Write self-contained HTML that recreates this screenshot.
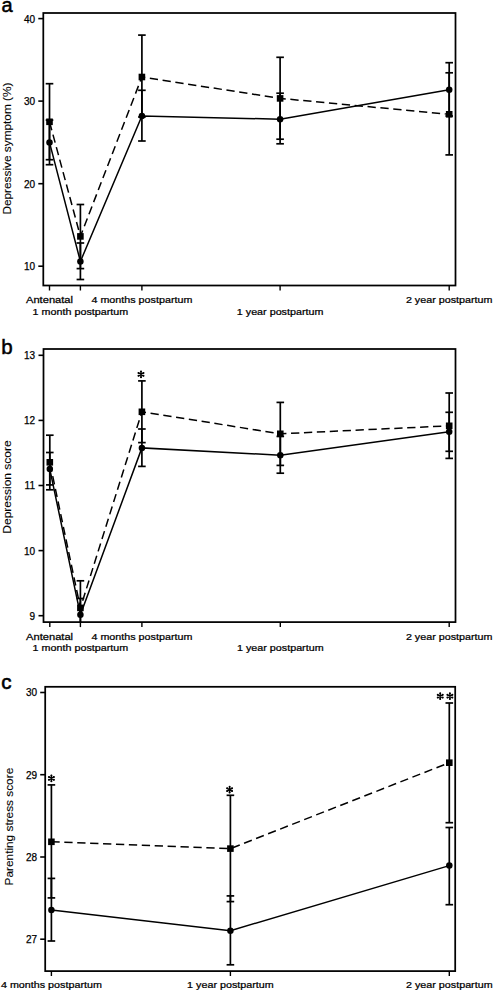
<!DOCTYPE html>
<html><head><meta charset="utf-8"><style>
html,body{margin:0;padding:0;background:#fff;width:493px;height:992px;overflow:hidden}
svg{display:block}
text{font-family:"Liberation Sans", sans-serif;fill:#000;stroke:#000;stroke-width:0.25px}
</style></head><body>
<svg width="493" height="992" viewBox="0 0 493 992">
<text x="1.6" y="12.3" font-size="20" style="stroke-width:0.5px">a</text>
<rect x="43.3" y="13.0" width="412.2" height="272.5" fill="none" stroke="#000" stroke-width="1.75"/>
<line x1="38.3" y1="18.6" x2="43.3" y2="18.6" stroke="#000" stroke-width="1.6"/>
<text transform="translate(35.0,22.5) scale(1.0,1)" font-size="10.0" text-anchor="end">40</text>
<line x1="38.3" y1="101.1" x2="43.3" y2="101.1" stroke="#000" stroke-width="1.6"/>
<text transform="translate(35.0,105.0) scale(1.0,1)" font-size="10.0" text-anchor="end">30</text>
<line x1="38.3" y1="183.7" x2="43.3" y2="183.7" stroke="#000" stroke-width="1.6"/>
<text transform="translate(35.0,187.6) scale(1.0,1)" font-size="10.0" text-anchor="end">20</text>
<line x1="38.3" y1="266.2" x2="43.3" y2="266.2" stroke="#000" stroke-width="1.6"/>
<text transform="translate(35.0,270.1) scale(1.0,1)" font-size="10.0" text-anchor="end">10</text>
<line x1="49.5" y1="285.5" x2="49.5" y2="290.5" stroke="#000" stroke-width="1.4"/>
<line x1="80.4" y1="285.5" x2="80.4" y2="290.5" stroke="#000" stroke-width="1.4"/>
<line x1="141.9" y1="285.5" x2="141.9" y2="290.5" stroke="#000" stroke-width="1.4"/>
<line x1="280.1" y1="285.5" x2="280.1" y2="290.5" stroke="#000" stroke-width="1.4"/>
<line x1="449.2" y1="285.5" x2="449.2" y2="290.5" stroke="#000" stroke-width="1.4"/>
<text transform="translate(49.5,303.2) scale(1.16,1)" font-size="9.6" text-anchor="middle">Antenatal</text>
<text transform="translate(141.9,303.2) scale(1.12,1)" font-size="9.6" text-anchor="middle">4 months postpartum</text>
<text transform="translate(449.2,303.2) scale(1.12,1)" font-size="9.6" text-anchor="middle">2 year postpartum</text>
<text transform="translate(80.4,314.8) scale(1.12,1)" font-size="9.6" text-anchor="middle">1 month postpartum</text>
<text transform="translate(280.1,314.8) scale(1.12,1)" font-size="9.6" text-anchor="middle">1 year postpartum</text>
<text transform="translate(11.0,148.6) rotate(-90) scale(1.15,1)" font-size="10.3" text-anchor="middle" style="stroke-width:0.1px">Depressive symptom (%)</text>
<line x1="49.5" y1="83.7" x2="49.5" y2="159.7" stroke="#000" stroke-width="1.7"/>
<line x1="45.7" y1="83.7" x2="53.3" y2="83.7" stroke="#000" stroke-width="1.7"/>
<line x1="45.7" y1="159.7" x2="53.3" y2="159.7" stroke="#000" stroke-width="1.7"/>
<line x1="49.5" y1="120.1" x2="49.5" y2="164.7" stroke="#000" stroke-width="1.7"/>
<line x1="45.7" y1="120.1" x2="53.3" y2="120.1" stroke="#000" stroke-width="1.7"/>
<line x1="45.7" y1="164.7" x2="53.3" y2="164.7" stroke="#000" stroke-width="1.7"/>
<line x1="80.4" y1="204.5" x2="80.4" y2="268.6" stroke="#000" stroke-width="1.7"/>
<line x1="76.60000000000001" y1="204.5" x2="84.2" y2="204.5" stroke="#000" stroke-width="1.7"/>
<line x1="76.60000000000001" y1="268.6" x2="84.2" y2="268.6" stroke="#000" stroke-width="1.7"/>
<line x1="80.4" y1="243.0" x2="80.4" y2="279.5" stroke="#000" stroke-width="1.7"/>
<line x1="76.60000000000001" y1="243.0" x2="84.2" y2="243.0" stroke="#000" stroke-width="1.7"/>
<line x1="76.60000000000001" y1="279.5" x2="84.2" y2="279.5" stroke="#000" stroke-width="1.7"/>
<line x1="141.9" y1="35.1" x2="141.9" y2="117.0" stroke="#000" stroke-width="1.7"/>
<line x1="138.1" y1="35.1" x2="145.70000000000002" y2="35.1" stroke="#000" stroke-width="1.7"/>
<line x1="138.1" y1="117.0" x2="145.70000000000002" y2="117.0" stroke="#000" stroke-width="1.7"/>
<line x1="141.9" y1="90.3" x2="141.9" y2="141.0" stroke="#000" stroke-width="1.7"/>
<line x1="138.1" y1="90.3" x2="145.70000000000002" y2="90.3" stroke="#000" stroke-width="1.7"/>
<line x1="138.1" y1="141.0" x2="145.70000000000002" y2="141.0" stroke="#000" stroke-width="1.7"/>
<line x1="280.1" y1="57.3" x2="280.1" y2="139.2" stroke="#000" stroke-width="1.7"/>
<line x1="276.3" y1="57.3" x2="283.90000000000003" y2="57.3" stroke="#000" stroke-width="1.7"/>
<line x1="276.3" y1="139.2" x2="283.90000000000003" y2="139.2" stroke="#000" stroke-width="1.7"/>
<line x1="280.1" y1="93.2" x2="280.1" y2="143.8" stroke="#000" stroke-width="1.7"/>
<line x1="276.3" y1="93.2" x2="283.90000000000003" y2="93.2" stroke="#000" stroke-width="1.7"/>
<line x1="276.3" y1="143.8" x2="283.90000000000003" y2="143.8" stroke="#000" stroke-width="1.7"/>
<line x1="449.2" y1="72.8" x2="449.2" y2="154.9" stroke="#000" stroke-width="1.7"/>
<line x1="445.4" y1="72.8" x2="453.0" y2="72.8" stroke="#000" stroke-width="1.7"/>
<line x1="445.4" y1="154.9" x2="453.0" y2="154.9" stroke="#000" stroke-width="1.7"/>
<line x1="449.2" y1="62.7" x2="449.2" y2="116.0" stroke="#000" stroke-width="1.7"/>
<line x1="445.4" y1="62.7" x2="453.0" y2="62.7" stroke="#000" stroke-width="1.7"/>
<line x1="445.4" y1="116.0" x2="453.0" y2="116.0" stroke="#000" stroke-width="1.7"/>
<polyline points="49.5,121.8 80.4,236.4 141.9,77.0 280.1,98.4 449.2,114.3" fill="none" stroke="#000" stroke-width="1.5" stroke-dasharray="8.3 4.62" stroke-dashoffset="-0.4"/>
<polyline points="49.5,142.4 80.4,261.5 141.9,116.0 280.1,119.2 449.2,89.8" fill="none" stroke="#000" stroke-width="1.5"/>
<rect x="46.2" y="118.5" width="6.6" height="6.6" fill="#000"/>
<rect x="77.10000000000001" y="233.1" width="6.6" height="6.6" fill="#000"/>
<rect x="138.6" y="73.7" width="6.6" height="6.6" fill="#000"/>
<rect x="276.8" y="95.10000000000001" width="6.6" height="6.6" fill="#000"/>
<rect x="445.9" y="111.0" width="6.6" height="6.6" fill="#000"/>
<circle cx="49.5" cy="142.4" r="3.25" fill="#000"/>
<circle cx="80.4" cy="261.5" r="3.25" fill="#000"/>
<circle cx="141.9" cy="116.0" r="3.25" fill="#000"/>
<circle cx="280.1" cy="119.2" r="3.25" fill="#000"/>
<circle cx="449.2" cy="89.8" r="3.25" fill="#000"/>
<text x="1.2" y="353.6" font-size="20.5" style="stroke-width:0.5px">b</text>
<rect x="43.5" y="349.0" width="412.0" height="273.1" fill="none" stroke="#000" stroke-width="1.75"/>
<line x1="38.5" y1="355.3" x2="43.5" y2="355.3" stroke="#000" stroke-width="1.6"/>
<text transform="translate(35.0,359.2) scale(1.0,1)" font-size="10.0" text-anchor="end">13</text>
<line x1="38.5" y1="420.4" x2="43.5" y2="420.4" stroke="#000" stroke-width="1.6"/>
<text transform="translate(35.0,424.3) scale(1.0,1)" font-size="10.0" text-anchor="end">12</text>
<line x1="38.5" y1="485.5" x2="43.5" y2="485.5" stroke="#000" stroke-width="1.6"/>
<text transform="translate(35.0,489.4) scale(1.0,1)" font-size="10.0" text-anchor="end">11</text>
<line x1="38.5" y1="550.6" x2="43.5" y2="550.6" stroke="#000" stroke-width="1.6"/>
<text transform="translate(35.0,554.5) scale(1.0,1)" font-size="10.0" text-anchor="end">10</text>
<line x1="38.5" y1="615.7" x2="43.5" y2="615.7" stroke="#000" stroke-width="1.6"/>
<text transform="translate(35.0,619.6) scale(1.0,1)" font-size="10.0" text-anchor="end">9</text>
<line x1="49.8" y1="622.1" x2="49.8" y2="627.1" stroke="#000" stroke-width="1.4"/>
<line x1="80.4" y1="622.1" x2="80.4" y2="627.1" stroke="#000" stroke-width="1.4"/>
<line x1="141.9" y1="622.1" x2="141.9" y2="627.1" stroke="#000" stroke-width="1.4"/>
<line x1="280.3" y1="622.1" x2="280.3" y2="627.1" stroke="#000" stroke-width="1.4"/>
<line x1="449.2" y1="622.1" x2="449.2" y2="627.1" stroke="#000" stroke-width="1.4"/>
<text transform="translate(49.6,639.5) scale(1.16,1)" font-size="9.6" text-anchor="middle">Antenatal</text>
<text transform="translate(141.9,639.5) scale(1.12,1)" font-size="9.6" text-anchor="middle">4 months postpartum</text>
<text transform="translate(449.2,639.5) scale(1.12,1)" font-size="9.6" text-anchor="middle">2 year postpartum</text>
<text transform="translate(80.4,651.1) scale(1.12,1)" font-size="9.6" text-anchor="middle">1 month postpartum</text>
<text transform="translate(280.3,651.1) scale(1.12,1)" font-size="9.6" text-anchor="middle">1 year postpartum</text>
<text transform="translate(10.6,487.0) rotate(-90) scale(1.165,1)" font-size="10.3" text-anchor="middle" style="stroke-width:0.1px">Depression score</text>
<line x1="49.8" y1="435.2" x2="49.8" y2="489.8" stroke="#000" stroke-width="1.7"/>
<line x1="46.0" y1="435.2" x2="53.599999999999994" y2="435.2" stroke="#000" stroke-width="1.7"/>
<line x1="46.0" y1="489.8" x2="53.599999999999994" y2="489.8" stroke="#000" stroke-width="1.7"/>
<line x1="49.8" y1="452.5" x2="49.8" y2="484.9" stroke="#000" stroke-width="1.7"/>
<line x1="46.0" y1="452.5" x2="53.599999999999994" y2="452.5" stroke="#000" stroke-width="1.7"/>
<line x1="46.0" y1="484.9" x2="53.599999999999994" y2="484.9" stroke="#000" stroke-width="1.7"/>
<line x1="80.4" y1="580.8" x2="80.4" y2="622.1" stroke="#000" stroke-width="1.7"/>
<line x1="76.60000000000001" y1="580.8" x2="84.2" y2="580.8" stroke="#000" stroke-width="1.7"/>
<line x1="80.4" y1="598.5" x2="80.4" y2="622.1" stroke="#000" stroke-width="1.7"/>
<line x1="76.60000000000001" y1="598.5" x2="84.2" y2="598.5" stroke="#000" stroke-width="1.7"/>
<line x1="141.9" y1="380.9" x2="141.9" y2="442.6" stroke="#000" stroke-width="1.7"/>
<line x1="138.1" y1="380.9" x2="145.70000000000002" y2="380.9" stroke="#000" stroke-width="1.7"/>
<line x1="138.1" y1="442.6" x2="145.70000000000002" y2="442.6" stroke="#000" stroke-width="1.7"/>
<line x1="141.9" y1="429.0" x2="141.9" y2="466.4" stroke="#000" stroke-width="1.7"/>
<line x1="138.1" y1="429.0" x2="145.70000000000002" y2="429.0" stroke="#000" stroke-width="1.7"/>
<line x1="138.1" y1="466.4" x2="145.70000000000002" y2="466.4" stroke="#000" stroke-width="1.7"/>
<line x1="280.3" y1="402.4" x2="280.3" y2="465.4" stroke="#000" stroke-width="1.7"/>
<line x1="276.5" y1="402.4" x2="284.1" y2="402.4" stroke="#000" stroke-width="1.7"/>
<line x1="276.5" y1="465.4" x2="284.1" y2="465.4" stroke="#000" stroke-width="1.7"/>
<line x1="280.3" y1="436.4" x2="280.3" y2="473.2" stroke="#000" stroke-width="1.7"/>
<line x1="276.5" y1="436.4" x2="284.1" y2="436.4" stroke="#000" stroke-width="1.7"/>
<line x1="276.5" y1="473.2" x2="284.1" y2="473.2" stroke="#000" stroke-width="1.7"/>
<line x1="449.2" y1="393.0" x2="449.2" y2="458.4" stroke="#000" stroke-width="1.7"/>
<line x1="445.4" y1="393.0" x2="453.0" y2="393.0" stroke="#000" stroke-width="1.7"/>
<line x1="445.4" y1="458.4" x2="453.0" y2="458.4" stroke="#000" stroke-width="1.7"/>
<line x1="449.2" y1="412.3" x2="449.2" y2="451.3" stroke="#000" stroke-width="1.7"/>
<line x1="445.4" y1="412.3" x2="453.0" y2="412.3" stroke="#000" stroke-width="1.7"/>
<line x1="445.4" y1="451.3" x2="453.0" y2="451.3" stroke="#000" stroke-width="1.7"/>
<polyline points="49.8,462.3 80.4,607.9 141.9,411.8 280.3,433.8 449.2,425.8" fill="none" stroke="#000" stroke-width="1.5" stroke-dasharray="8.3 4.62" stroke-dashoffset="-1.3"/>
<polyline points="49.8,469.1 80.4,614.8 141.9,447.9 280.3,455.2 449.2,431.7" fill="none" stroke="#000" stroke-width="1.5"/>
<rect x="46.5" y="459.0" width="6.6" height="6.6" fill="#000"/>
<rect x="77.10000000000001" y="604.6" width="6.6" height="6.6" fill="#000"/>
<rect x="138.6" y="408.5" width="6.6" height="6.6" fill="#000"/>
<rect x="277.0" y="430.5" width="6.6" height="6.6" fill="#000"/>
<rect x="445.9" y="422.5" width="6.6" height="6.6" fill="#000"/>
<circle cx="49.8" cy="469.1" r="3.25" fill="#000"/>
<circle cx="80.4" cy="614.8" r="3.25" fill="#000"/>
<circle cx="141.9" cy="447.9" r="3.25" fill="#000"/>
<circle cx="280.3" cy="455.2" r="3.25" fill="#000"/>
<circle cx="449.2" cy="431.7" r="3.25" fill="#000"/>
<path d="M141.00,371.55L141.00,377.25M138.53,372.97L143.47,375.82M143.47,372.97L138.53,375.82" stroke="#000" stroke-width="1.4" stroke-linecap="round" fill="none"/>
<g fill="#000"><circle cx="141.00" cy="371.55" r="1.0"/><circle cx="141.00" cy="377.25" r="1.0"/><circle cx="138.53" cy="372.97" r="1.0"/><circle cx="143.47" cy="375.82" r="1.0"/><circle cx="143.47" cy="372.97" r="1.0"/><circle cx="138.53" cy="375.82" r="1.0"/></g>
<text x="1.2" y="688.9" font-size="20.5" style="stroke-width:0.6px">c</text>
<rect x="45.2" y="686.8" width="410.0" height="284.30000000000007" fill="none" stroke="#000" stroke-width="1.75"/>
<line x1="40.2" y1="692.5" x2="45.2" y2="692.5" stroke="#000" stroke-width="1.6"/>
<text transform="translate(37.0,696.4) scale(1.0,1)" font-size="10.0" text-anchor="end">30</text>
<line x1="40.2" y1="774.7" x2="45.2" y2="774.7" stroke="#000" stroke-width="1.6"/>
<text transform="translate(37.0,778.6) scale(1.0,1)" font-size="10.0" text-anchor="end">29</text>
<line x1="40.2" y1="857.0" x2="45.2" y2="857.0" stroke="#000" stroke-width="1.6"/>
<text transform="translate(37.0,860.9) scale(1.0,1)" font-size="10.0" text-anchor="end">28</text>
<line x1="40.2" y1="939.2" x2="45.2" y2="939.2" stroke="#000" stroke-width="1.6"/>
<text transform="translate(37.0,943.1) scale(1.0,1)" font-size="10.0" text-anchor="end">27</text>
<line x1="51.4" y1="971.1" x2="51.4" y2="976.0" stroke="#000" stroke-width="1.4"/>
<line x1="230.4" y1="971.1" x2="230.4" y2="976.0" stroke="#000" stroke-width="1.4"/>
<line x1="449.3" y1="971.1" x2="449.3" y2="976.0" stroke="#000" stroke-width="1.4"/>
<text transform="translate(51.4,988.3) scale(1.12,1)" font-size="9.6" text-anchor="middle">4 months postpartum</text>
<text transform="translate(230.4,988.3) scale(1.12,1)" font-size="9.6" text-anchor="middle">1 year postpartum</text>
<text transform="translate(449.3,988.3) scale(1.12,1)" font-size="9.6" text-anchor="middle">2 year postpartum</text>
<text transform="translate(12.6,826.6) rotate(-90) scale(1.15,1)" font-size="10.3" text-anchor="middle" style="stroke-width:0.1px">Parenting stress score</text>
<line x1="51.4" y1="784.9" x2="51.4" y2="897.9" stroke="#000" stroke-width="1.7"/>
<line x1="47.6" y1="784.9" x2="55.199999999999996" y2="784.9" stroke="#000" stroke-width="1.7"/>
<line x1="47.6" y1="897.9" x2="55.199999999999996" y2="897.9" stroke="#000" stroke-width="1.7"/>
<line x1="51.4" y1="878.4" x2="51.4" y2="941.0" stroke="#000" stroke-width="1.7"/>
<line x1="47.6" y1="878.4" x2="55.199999999999996" y2="878.4" stroke="#000" stroke-width="1.7"/>
<line x1="47.6" y1="941.0" x2="55.199999999999996" y2="941.0" stroke="#000" stroke-width="1.7"/>
<line x1="230.4" y1="795.3" x2="230.4" y2="901.6" stroke="#000" stroke-width="1.7"/>
<line x1="226.6" y1="795.3" x2="234.20000000000002" y2="795.3" stroke="#000" stroke-width="1.7"/>
<line x1="226.6" y1="901.6" x2="234.20000000000002" y2="901.6" stroke="#000" stroke-width="1.7"/>
<line x1="230.4" y1="895.9" x2="230.4" y2="964.8" stroke="#000" stroke-width="1.7"/>
<line x1="226.6" y1="895.9" x2="234.20000000000002" y2="895.9" stroke="#000" stroke-width="1.7"/>
<line x1="226.6" y1="964.8" x2="234.20000000000002" y2="964.8" stroke="#000" stroke-width="1.7"/>
<line x1="449.3" y1="703.0" x2="449.3" y2="822.7" stroke="#000" stroke-width="1.7"/>
<line x1="445.5" y1="703.0" x2="453.1" y2="703.0" stroke="#000" stroke-width="1.7"/>
<line x1="445.5" y1="822.7" x2="453.1" y2="822.7" stroke="#000" stroke-width="1.7"/>
<line x1="449.3" y1="827.5" x2="449.3" y2="904.7" stroke="#000" stroke-width="1.7"/>
<line x1="445.5" y1="827.5" x2="453.1" y2="827.5" stroke="#000" stroke-width="1.7"/>
<line x1="445.5" y1="904.7" x2="453.1" y2="904.7" stroke="#000" stroke-width="1.7"/>
<polyline points="51.4,841.8 230.4,848.6 449.3,762.7" fill="none" stroke="#000" stroke-width="1.5" stroke-dasharray="8.3 4.62" stroke-dashoffset="0"/>
<polyline points="51.4,910.0 230.4,930.7 449.3,865.6" fill="none" stroke="#000" stroke-width="1.5"/>
<rect x="48.1" y="838.5" width="6.6" height="6.6" fill="#000"/>
<rect x="227.1" y="845.3000000000001" width="6.6" height="6.6" fill="#000"/>
<rect x="446.0" y="759.4000000000001" width="6.6" height="6.6" fill="#000"/>
<circle cx="51.4" cy="910.0" r="3.25" fill="#000"/>
<circle cx="230.4" cy="930.7" r="3.25" fill="#000"/>
<circle cx="449.3" cy="865.6" r="3.25" fill="#000"/>
<path d="M51.40,775.55L51.40,781.25M48.93,776.98L53.87,779.82M53.87,776.98L48.93,779.82" stroke="#000" stroke-width="1.4" stroke-linecap="round" fill="none"/>
<g fill="#000"><circle cx="51.40" cy="775.55" r="1.0"/><circle cx="51.40" cy="781.25" r="1.0"/><circle cx="48.93" cy="776.98" r="1.0"/><circle cx="53.87" cy="779.82" r="1.0"/><circle cx="53.87" cy="776.98" r="1.0"/><circle cx="48.93" cy="779.82" r="1.0"/></g>
<path d="M229.60,786.85L229.60,792.55M227.13,788.28L232.07,791.12M232.07,788.28L227.13,791.12" stroke="#000" stroke-width="1.4" stroke-linecap="round" fill="none"/>
<g fill="#000"><circle cx="229.60" cy="786.85" r="1.0"/><circle cx="229.60" cy="792.55" r="1.0"/><circle cx="227.13" cy="788.28" r="1.0"/><circle cx="232.07" cy="791.12" r="1.0"/><circle cx="232.07" cy="788.28" r="1.0"/><circle cx="227.13" cy="791.12" r="1.0"/></g>
<path d="M440.20,693.35L440.20,699.05M437.73,694.78L442.67,697.62M442.67,694.78L437.73,697.62" stroke="#000" stroke-width="1.4" stroke-linecap="round" fill="none"/>
<g fill="#000"><circle cx="440.20" cy="693.35" r="1.0"/><circle cx="440.20" cy="699.05" r="1.0"/><circle cx="437.73" cy="694.78" r="1.0"/><circle cx="442.67" cy="697.62" r="1.0"/><circle cx="442.67" cy="694.78" r="1.0"/><circle cx="437.73" cy="697.62" r="1.0"/></g>
<path d="M449.90,693.35L449.90,699.05M447.43,694.78L452.37,697.62M452.37,694.78L447.43,697.62" stroke="#000" stroke-width="1.4" stroke-linecap="round" fill="none"/>
<g fill="#000"><circle cx="449.90" cy="693.35" r="1.0"/><circle cx="449.90" cy="699.05" r="1.0"/><circle cx="447.43" cy="694.78" r="1.0"/><circle cx="452.37" cy="697.62" r="1.0"/><circle cx="452.37" cy="694.78" r="1.0"/><circle cx="447.43" cy="697.62" r="1.0"/></g>
</svg>
</body></html>
